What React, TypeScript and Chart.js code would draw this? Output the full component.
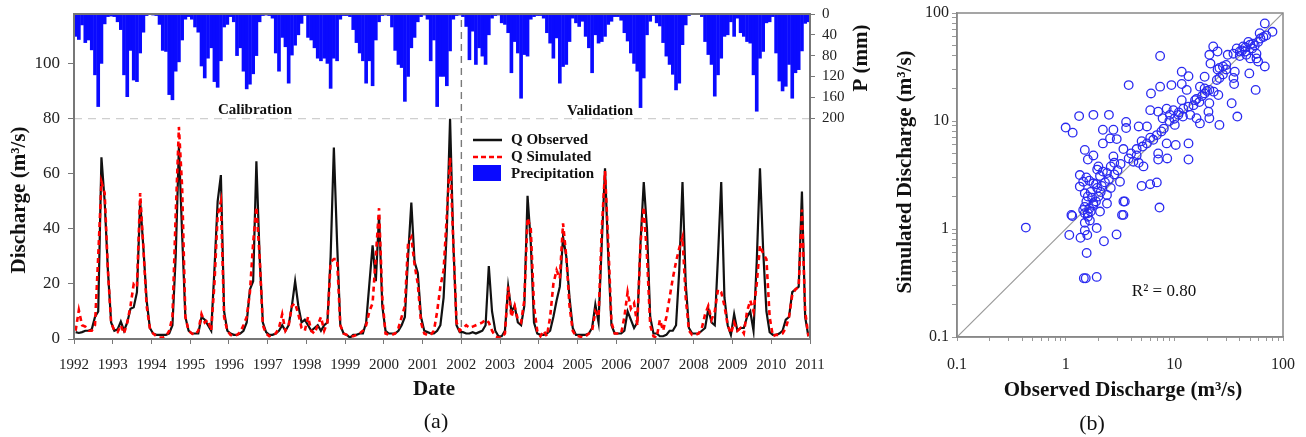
import React, { useEffect, useRef } from 'react';
import { Chart, registerables } from 'chart.js';
Chart.register(...registerables);

const SERIF = "'Liberation Serif', 'Times New Roman', serif";

// ---------- Panel (a) data: monthly values Jan 1992 .. Dec 2010 ----------
const startYear = 1992;
const yearTicks = [1992, 1993, 1994, 1995, 1996, 1997, 1998, 1999, 2000, 2001, 2002, 2003, 2004, 2005, 2006, 2007, 2008, 2009, 2010, 2011];
const dischargeTicks = [0, 20, 40, 60, 80, 100];
const precipTicks = [0, 40, 80, 120, 160, 200];
const splitYear = 2002;
const separatorLevel = 80;

const observedQ = [
  2.5, 2.2, 2.5, 3, 3, 3.5, 8, 10, 66, 50, 25, 6, // 1992
  3, 3.5, 6.3, 3, 6, 11, 11.5, 17, 50, 33, 14, 4, // 1993
  2, 1.5, 1.5, 1.5, 1.5, 2, 5, 30, 70, 38, 8, 3, // 1994
  2, 2, 2, 8, 7, 5, 3, 25, 50, 59.5, 10, 3, // 1995
  2, 1.5, 1.5, 2, 3, 6, 18, 21, 64.5, 30, 6, 2.5, // 1996
  1.5, 1.5, 2, 3, 5, 3, 5, 12, 21, 12, 6, 7, // 1997
  5, 3, 4, 5, 3, 5, 6, 30, 69.5, 35, 5, 2, // 1998
  1.5, 0.5, 1.5, 1.5, 2, 2, 6, 20, 34, 21, 45, 12, // 1999
  3, 2, 2, 2, 3, 5, 8, 30, 49.5, 28, 24, 8, // 2000
  3, 2.5, 2, 2, 3, 5, 15, 40, 80, 35, 5, 2.5, // 2001
  2.5, 2, 2, 2.5, 2, 2.5, 3, 5, 26.5, 10, 3, 1, // 2002
  1, 3, 19, 10, 12, 6, 5, 12, 52, 35, 6, 2, // 2003
  1.5, 1.5, 2, 3, 8, 14, 19, 37, 30, 15, 4, 1.5, // 2004
  1.5, 1.5, 1.5, 2, 4, 12.5, 6, 35, 62, 30, 5, 2, // 2005
  2, 2, 3, 10, 7, 4, 6, 35, 57, 40, 8, 2, // 2006
  2, 1, 1, 1.5, 3, 3, 5, 25, 57, 20, 4, 2, // 2007
  2, 2, 3, 4, 11, 6, 5, 30, 57, 15, 5, 1.5, // 2008
  9, 3, 4, 4, 8, 10, 3, 28, 62, 32, 10, 2.5, // 2009
  1.5, 1.5, 2, 3, 7, 8, 17, 18, 19, 53.5, 8, 1, // 2010
];

const simulatedQ = [
  3, 10.5, 5, 4.5, 3, 3, 5, 30, 57, 53, 25, 6, // 1992
  3, 2.5, 5, 2, 6, 12, 20, 19, 53, 33, 12, 4, // 1993
  2, 1, 0.5, 0.5, 1, 3, 8, 45, 77, 55, 8, 3, // 1994
  2, 1.5, 3, 9, 6, 7, 3, 20, 45, 50, 8, 3, // 1995
  1.5, 1, 1.5, 2.5, 5, 8, 17, 35, 48, 30, 5, 2, // 1996
  1, 1.5, 2, 4, 9, 3, 5, 12, 13, 9, 4, 3, // 1997
  8, 3, 2, 5, 8, 3, 6, 28, 29, 29, 5, 2, // 1998
  1.5, 1, 1, 1.5, 2, 3, 5, 10, 13, 30, 47.5, 15, // 1999
  2, 1.5, 1.5, 2, 4, 8, 12, 35, 37, 27, 20, 6, // 2000
  2, 1.5, 1.5, 3, 10, 19, 25, 45, 66, 35, 6, 3, // 2001
  4, 5, 4, 4.5, 5, 5.5, 6, 7, 6, 3, 1, 0.5, // 2002
  0.5, 2, 19, 8, 12, 7, 6, 14, 44, 40, 12, 3, // 2003
  1, 3, 1, 8, 20, 25, 22, 42, 30, 12, 3, 1, // 2004
  1, 0.5, 1, 2, 3, 10, 8, 40, 61, 35, 6, 2, // 2005
  2, 2, 8, 17, 11, 13, 5, 35, 48, 30, 5, 1, // 2006
  0.5, 7, 3, 8, 15, 22, 28, 33, 37, 15, 3, 1.5, // 2007
  1.5, 2, 4, 9, 12, 7, 10, 18, 17, 12, 5, 2, // 2008
  6, 3, 4, 2, 10, 14, 10, 20, 34, 31, 29, 8, // 2009
  1, 1.5, 1.5, 2, 4, 8, 16, 18, 19, 47, 10, 1, // 2010
];

const precipitation = [
  43, 49, 21, 55, 50, 69, 117, 178, 95, 19, 5, 4, // 1992
  5, 15, 30, 117, 159, 70, 127, 130, 75, 35, 3, 1, // 1993
  2, 3, 20, 70, 72, 155, 165, 110, 92, 50, 10, 5, // 1994
  10, 25, 35, 100, 123, 85, 65, 130, 141, 90, 25, 20, // 1995
  5, 15, 80, 65, 110, 144, 135, 115, 80, 15, 3, 2, // 1996
  3, 8, 75, 110, 45, 63, 133, 79, 60, 40, 18, 3, // 1997
  45, 50, 65, 85, 90, 85, 95, 143, 85, 90, 10, 3, // 1998
  3, 5, 30, 55, 75, 90, 133, 90, 138, 50, 15, 3, // 1999
  2, 3, 25, 70, 97, 103, 168, 120, 65, 45, 15, 5, // 2000
  2, 10, 90, 50, 178, 120, 120, 138, 71, 10, 3, 2, // 2001
  5, 24, 88, 33, 97, 65, 81, 97, 40, 8, 3, 2, // 2002
  17, 20, 36, 113, 53, 75, 162, 78, 81, 10, 5, 3, // 2003
  3, 8, 36, 56, 85, 46, 133, 101, 97, 53, 8, 17, // 2004
  24, 14, 43, 65, 113, 40, 56, 53, 43, 20, 14, 5, // 2005
  5, 12, 36, 52, 75, 95, 110, 180, 123, 40, 14, 3, // 2006
  17, 23, 55, 81, 97, 116, 146, 133, 59, 21, 3, 0, // 2007
  0, 0, 5, 53, 78, 97, 158, 117, 85, 43, 40, 15, // 2008
  43, 8, 36, 43, 53, 56, 117, 187, 85, 72, 17, 15, // 2009
  5, 75, 129, 148, 139, 97, 162, 113, 107, 71, 18, 15, // 2010
];

// ---------- Panel (b) data: observed vs simulated discharge (m3/s) ----------
const scatterObs = [
  68, 80, 61, 66, 59, 53, 50, 48, 43, 37.5, 40, 35, 31, 45, 46, 57, 50, 59, 68, 57, 49, 56,
  22.8, 25, 21, 21.5, 26, 28, 30, 36, 35, 35.5, 26, 24.6, 33.7, 38, 26, 21, 20.6, 21, 25.4, 23, 21, 19, 17.2, 19,
  15.5, 13.5, 14, 16, 17.2, 11.7, 12.1, 13, 11.7, 13.5, 9.4, 11.7, 10.9, 10.1, 9.8, 9.1, 8.5, 7.8, 7.1, 6, 6.1, 7.4, 7.4, 3.8,
  7.6, 6.9, 6.4, 5.6, 4.7, 3.6, 3.6, 2.75, 2.2, 2.5, 1.8, 1.33, 1.0, 1.16, 1.5, 1.8, 1.6, 2.2, 2.56, 2.95, 3.4, 3.8, 4.5, 4.2,
  4.7, 5.1, 5.6, 5.2, 2.75, 2.8, 2.6, 2.4, 2.2, 2.07, 2.0, 1.95, 1.35, 1.55, 1.45, 1.65, 1.8, 2.15, 3.16, 5, 6.9, 7.1, 7.1,
  10.3, 13.5, 13.5, 8.6, 8.5, 6.0, 7.3, 3.4, 3.4, 2.4, 2.0, 1.8, 1.55, 1.45, 1.6, 1.5, 1.35, 1.95, 1.13, 1.6, 2.07, 1.67,
  0.43, 1.08, 1.37, 1.58, 1.5, 1.93, 2.94, 2.25, 1.56, 1.47, 1.53, 1.93, 1.15, 1.5, 3.3, 1.8, 2.4, 3.5, 1.5,
  8, 9, 10, 11, 12, 15, 16, 18, 19, 17, 20, 25, 28, 30, 40, 42, 45, 52, 55, 62, 70,
  4, 4.5, 5, 6, 3, 3.2, 2.5, 2.8, 1.7, 1.9, 2.3, 2.6, 1.6, 1.75, 2.1, 1.5, 1.65, 1.9, 1.7,
];
const scatterSim = [
  80, 67, 65, 60, 54, 52, 51, 54, 49, 47, 44, 42, 41, 44, 41, 42, 38, 35.5, 32, 38, 27.6, 19.4,
  49, 44, 41, 34, 31, 32, 30, 28.6, 25, 22, 25, 24, 14.6, 11, 9.2, 10.6, 12.2, 14.6, 17.4, 18.7, 19.4, 20, 20.8, 25.7,
  15.6, 13.6, 11.4, 10.6, 9.5, 15.6, 13, 19.4, 28.6, 26, 21.5, 22, 11.4, 9.2, 12.6, 11.4, 13, 10.6, 12.2, 12.6, 18, 20.8, 40, 21.5,
  8, 7.4, 6.7, 8.9, 8.9, 9.8, 8.6, 8.3, 6.2, 11.4, 11.4, 11.1, 8.7, 7.8, 5.4, 4.8, 4.4, 8.3, 6.9, 6.8, 5.5, 4.5, 4.8, 4.2,
  4.1, 5.8, 6.2, 3.8, 4.7, 4.1, 3.8, 3.3, 3.4, 3.1, 3.8, 3.55, 3.16, 3.0, 2.74, 2.8, 2.65, 2.5, 2.74, 2.5, 2.7, 4.4, 5.0,
  6.0, 6.2, 4.4, 4.5, 6.2, 2.6, 1.58, 1.8, 1.35, 2.07, 2.0, 1.73, 1.8, 1.5, 1.4, 2.14, 2.47, 2.4, 1.35, 1.3, 1.45, 1.2,
  1.03, 0.88, 0.83, 0.88, 0.97, 1.02, 0.89, 0.77, 0.6, 0.35, 0.35, 0.36, 1.32, 1.4, 1.35, 1.67, 1.72, 1.8, 1.14,
  8.5, 10, 10.5, 12, 11, 14, 16, 17, 18, 15, 19, 30, 27, 33, 40, 45, 48, 47, 50, 58, 62,
  5, 5.5, 6.5, 7, 3.5, 4, 2.9, 3.2, 2.2, 2.6, 2.7, 2.4, 2, 1.95, 2.2, 1.6, 1.55, 1.8, 1.45,
];
const oneToOne = [0.1, 100];
const logTicks = [0.1, 0.2, 0.3, 0.4, 0.5, 0.6, 0.7, 0.8, 0.9, 1, 2, 3, 4, 5, 6, 7, 8, 9, 10, 20, 30, 40, 50, 60, 70, 80, 90, 100];
const logLabels = [0.1, 1, 10, 100];
const rSquaredText = 'R\u00B2 = 0.80';

const monthX = (i: number) => startYear + (i + 0.5) / 12;

function vText(ctx: CanvasRenderingContext2D, text: string, x: number, y: number, font: string) {
  ctx.save();
  ctx.translate(x, y);
  ctx.rotate(-Math.PI / 2);
  ctx.font = font;
  ctx.textAlign = 'center';
  ctx.textBaseline = 'middle';
  ctx.fillText(text, 0, 0);
  ctx.restore();
}

const leftDecor = {
  id: 'leftDecor',
  afterDatasetsDraw(chart: any) {
    const { ctx, chartArea: a } = chart;
    ctx.save();
    ctx.strokeStyle = '#777';
    ctx.lineWidth = 2;
    ctx.strokeRect(a.left, a.top, a.right - a.left, a.bottom - a.top);
    ctx.restore();
  },
  afterDraw(chart: any) {
    const ctx = chart.ctx as CanvasRenderingContext2D;
    ctx.save();
    ctx.fillStyle = '#111';
    vText(ctx, 'Discharge (m\u00B3/s)', 20, 200, `bold 21px ${SERIF}`);
    vText(ctx, 'P (mm)', 862, 58, `bold 21px ${SERIF}`);
    ctx.textAlign = 'center';
    ctx.textBaseline = 'middle';
    ctx.font = `bold 21px ${SERIF}`;
    ctx.fillText('Date', 434, 390);
    ctx.font = `22px ${SERIF}`;
    ctx.fillText('(a)', 436, 422);
    ctx.font = `bold 15px ${SERIF}`;
    ctx.fillText('Calibration', 255, 110);
    ctx.fillText('Validation', 600, 111);
    // legend
    ctx.textAlign = 'left';
    ctx.font = `bold 15px ${SERIF}`;
    ctx.strokeStyle = '#111';
    ctx.lineWidth = 2.5;
    ctx.beginPath(); ctx.moveTo(473, 140); ctx.lineTo(502, 140); ctx.stroke();
    ctx.strokeStyle = '#ff0000';
    ctx.setLineDash([5, 3]);
    ctx.beginPath(); ctx.moveTo(473, 157); ctx.lineTo(502, 157); ctx.stroke();
    ctx.setLineDash([]);
    ctx.fillStyle = '#0a0aff';
    ctx.fillRect(473, 165, 28, 16);
    ctx.fillStyle = '#111';
    ctx.fillText('Q Observed', 511, 140);
    ctx.fillText('Q Simulated', 511, 157);
    ctx.fillText('Precipitation', 511, 174);
    ctx.restore();
  },
};

const rightDecor = {
  id: 'rightDecor',
  afterDatasetsDraw(chart: any) {
    const { ctx, chartArea: a } = chart;
    ctx.save();
    ctx.strokeStyle = '#888';
    ctx.lineWidth = 1.5;
    ctx.strokeRect(a.left, a.top, a.right - a.left, a.bottom - a.top);
    ctx.restore();
  },
  afterDraw(chart: any) {
    const ctx = chart.ctx as CanvasRenderingContext2D;
    ctx.save();
    ctx.fillStyle = '#111';
    vText(ctx, 'Simulated Discharge (m\u00B3/s)', 36, 172, `bold 21px ${SERIF}`);
    ctx.textAlign = 'center';
    ctx.textBaseline = 'middle';
    ctx.font = `bold 21px ${SERIF}`;
    ctx.fillText('Observed Discharge (m\u00B3/s)', 253, 391);
    ctx.font = `22px ${SERIF}`;
    ctx.fillText('(b)', 222, 424);
    ctx.font = `17px ${SERIF}`;
    ctx.fillText(rSquaredText, 294, 292);
    ctx.restore();
  },
};

export default function App() {
  const leftRef = useRef<HTMLCanvasElement | null>(null);
  const rightRef = useRef<HTMLCanvasElement | null>(null);

  useEffect(() => {
    if (!leftRef.current || !rightRef.current) return;
    const axisColor = '#777';

    const left = new Chart(leftRef.current, {
      type: 'line',
      data: {
        datasets: [
          {
            type: 'bar',
            label: 'Precipitation',
            data: precipitation.map((p, i) => ({ x: monthX(i), y: p })),
            xAxisID: 'x',
            yAxisID: 'yP',
            backgroundColor: '#0a0aff',
            borderWidth: 0,
            barThickness: 3,
            order: 5,
          } as any,
          {
            type: 'line',
            label: 'sep',
            data: [{ x: yearTicks[0], y: separatorLevel }, { x: yearTicks[yearTicks.length - 1], y: separatorLevel }],
            yAxisID: 'y',
            borderColor: '#cfcfcf',
            borderWidth: 1.3,
            borderDash: [8, 6],
            pointRadius: 0,
            order: 4,
          },
          {
            type: 'line',
            label: 'split',
            data: [{ x: splitYear, y: 0 }, { x: splitYear, y: 118 }],
            yAxisID: 'y',
            borderColor: '#7a7a7a',
            borderWidth: 1.4,
            borderDash: [7, 5],
            pointRadius: 0,
            order: 4,
          },
          {
            type: 'line',
            label: 'Q Observed',
            data: observedQ.map((q, i) => ({ x: monthX(i), y: q })),
            yAxisID: 'y',
            borderColor: '#111',
            borderWidth: 2.2,
            pointRadius: 0,
            tension: 0,
            order: 2,
          },
          {
            type: 'line',
            label: 'Q Simulated',
            data: simulatedQ.map((q, i) => ({ x: monthX(i), y: q })),
            yAxisID: 'y',
            borderColor: '#ff0000',
            borderWidth: 2.6,
            borderDash: [5, 4],
            pointRadius: 0,
            tension: 0,
            order: 1,
          },
        ],
      },
      options: {
        responsive: false,
        animation: false,
        devicePixelRatio: 1,
        layout: { padding: { top: 14, left: 0, right: 0, bottom: 0 } },
        plugins: { legend: { display: false }, tooltip: { enabled: false } },
        scales: {
          x: {
            type: 'linear',
            offset: false,
            min: yearTicks[0],
            max: yearTicks[yearTicks.length - 1],
            afterFit: (s: any) => { s.height = 98; s.paddingLeft = 0; s.paddingRight = 0; },
            afterBuildTicks: (s: any) => { s.ticks = yearTicks.map((v) => ({ value: v })); },
            ticks: {
              callback: (v: any) => String(v),
              autoSkip: false,
              maxRotation: 0,
              color: '#222',
              padding: 12,
              font: { family: SERIF, size: 15 },
            },
            grid: { offset: false, drawOnChartArea: false, drawTicks: true, tickLength: 5, color: axisColor },
            border: { color: axisColor, width: 2 },
          },
          y: {
            type: 'linear',
            position: 'left',
            min: 0,
            max: 118,
            afterFit: (s: any) => { s.width = 74; s.paddingTop = 0; s.paddingBottom = 0; },
            afterBuildTicks: (s: any) => { s.ticks = dischargeTicks.map((v) => ({ value: v })); },
            ticks: { color: '#222', padding: 8, font: { family: SERIF, size: 17 } },
            grid: { drawOnChartArea: false, drawTicks: true, tickLength: 6, color: axisColor },
            border: { color: axisColor, width: 2 },
          },
          yP: {
            type: 'linear',
            position: 'right',
            reverse: true,
            min: 0,
            max: 625,
            afterFit: (s: any) => { s.width = 60; s.paddingTop = 0; s.paddingBottom = 0; },
            afterBuildTicks: (s: any) => { s.ticks = precipTicks.map((v) => ({ value: v })); },
            ticks: { color: '#222', padding: 7, font: { family: SERIF, size: 15 } },
            grid: { drawOnChartArea: false, drawTicks: true, tickLength: 5, color: axisColor },
            border: { color: axisColor, width: 2 },
          },
        },
      } as any,
      plugins: [leftDecor],
    });

    const right = new Chart(rightRef.current, {
      type: 'scatter',
      data: {
        datasets: [
          {
            type: 'line',
            label: '1:1',
            data: oneToOne.map((v) => ({ x: v, y: v })),
            borderColor: '#9a9a9a',
            borderWidth: 1.2,
            pointRadius: 0,
            order: 2,
          } as any,
          {
            type: 'scatter',
            label: 'Q',
            data: scatterObs.map((o, i) => ({ x: o, y: scatterSim[i] })),
            pointStyle: 'circle',
            pointRadius: 4.3,
            borderColor: '#2a2af0',
            backgroundColor: 'rgba(0,0,0,0)',
            borderWidth: 1.3,
            order: 1,
          },
        ],
      },
      options: {
        responsive: false,
        animation: false,
        devicePixelRatio: 1,
        layout: { padding: { top: 13, left: 0, right: 23, bottom: 0 } },
        plugins: { legend: { display: false }, tooltip: { enabled: false } },
        scales: {
          x: {
            type: 'logarithmic',
            offset: false,
            min: 0.1,
            max: 100,
            afterFit: (s: any) => { s.height = 100; s.paddingLeft = 0; s.paddingRight = 0; },
            afterBuildTicks: (s: any) => { s.ticks = logTicks.map((v) => ({ value: v })); },
            ticks: {
              autoSkip: false,
              maxRotation: 0,
              color: '#222',
              padding: 14,
              font: { family: SERIF, size: 16 },
              callback: (v: any) => (logLabels.includes(Number(v)) ? String(v) : ''),
            },
            grid: { drawOnChartArea: false, drawTicks: true, tickLength: 4, color: '#999' },
            border: { color: '#888', width: 1.5 },
          },
          y: {
            type: 'logarithmic',
            min: 0.1,
            max: 100,
            afterFit: (s: any) => { s.width = 87; s.paddingTop = 0; s.paddingBottom = 0; },
            afterBuildTicks: (s: any) => { s.ticks = logTicks.map((v) => ({ value: v })); },
            ticks: {
              autoSkip: false,
              color: '#222',
              padding: 3,
              font: { family: SERIF, size: 16 },
              callback: (v: any) => (logLabels.includes(Number(v)) ? String(v) : ''),
            },
            grid: { drawOnChartArea: false, drawTicks: true, tickLength: 5, color: '#999' },
            border: { color: '#888', width: 1.5 },
          },
        },
      } as any,
      plugins: [rightDecor],
    });

    return () => {
      left.destroy();
      right.destroy();
    };
  }, []);

  return (
    <div style={{ position: 'absolute', left: 0, top: 0, width: 1306, height: 437, background: '#fff' }}>
      <canvas ref={leftRef} width={870} height={437} style={{ position: 'absolute', left: 0, top: 0, width: 870, height: 437 }} />
      <canvas ref={rightRef} width={436} height={437} style={{ position: 'absolute', left: 870, top: 0, width: 436, height: 437 }} />
    </div>
  );
}
